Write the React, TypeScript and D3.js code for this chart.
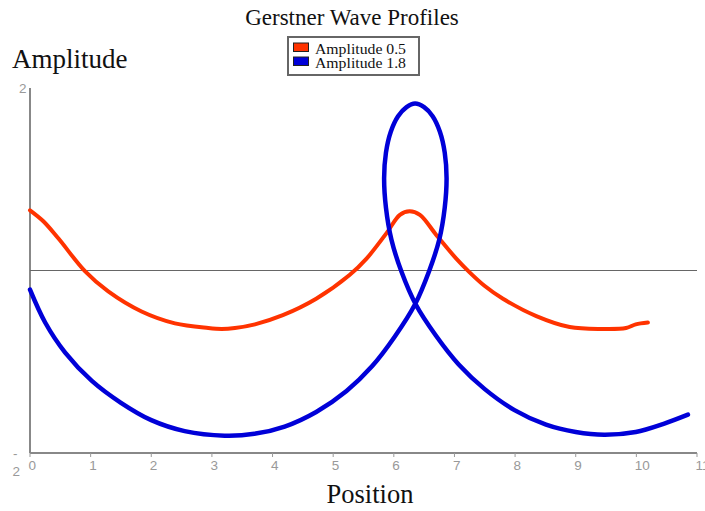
import React from "react";
import * as d3 from "d3";

const redX = [0, 0.22, 0.47, 0.91, 1.29, 1.84, 2.39, 2.94, 3.16, 3.38, 3.71, 4.17, 4.72, 5.27, 5.55, 5.88, 6.10, 6.26, 6.43, 6.70, 7.03, 7.25, 7.50, 7.80, 8.35, 8.90, 9.44, 9.83, 9.99, 10.19];
const redY = [0.66, 0.54, 0.35, -0.01, -0.23, -0.45, -0.58, -0.63, -0.64, -0.63, -0.59, -0.49, -0.31, -0.05, 0.13, 0.41, 0.61, 0.65, 0.61, 0.39, 0.13, -0.02, -0.17, -0.31, -0.50, -0.62, -0.64, -0.63, -0.59, -0.57];

const blueX = [0, 0.25, 0.58, 1.02, 1.50, 2.0, 2.55, 3.21, 3.70, 4.20, 4.72, 5.22, 5.64, 6.02, 6.35, 6.58, 6.75, 6.84, 6.87, 6.84, 6.76, 6.64, 6.50, 6.35, 6.21, 6.07, 5.95, 5.87, 5.84, 5.87, 5.96, 6.13, 6.36, 6.69, 7.07, 7.50, 7.99, 8.51, 9.0, 9.47, 9.99, 10.45, 10.85];
const blueY = [-0.21, -0.57, -0.90, -1.21, -1.45, -1.64, -1.76, -1.81, -1.79, -1.71, -1.55, -1.32, -1.05, -0.72, -0.37, -0.01, 0.34, 0.69, 1.01, 1.29, 1.52, 1.69, 1.79, 1.83, 1.79, 1.69, 1.52, 1.29, 1.01, 0.69, 0.34, -0.02, -0.37, -0.71, -1.03, -1.30, -1.53, -1.69, -1.77, -1.80, -1.77, -1.68, -1.58];

const xTicks = [0, 1, 2, 3, 4, 5, 6, 7, 8, 9, 10, 11];
const seriesNames = ["Amplitude 0.5", "Amplitude 1.8"];
const seriesColors = ["#ff3300", "#0000d8"];

export default function App() {
  const W = 705, H = 511;
  const x = d3.scaleLinear().domain([0, 11]).range([30, 697]);
  const y = d3.scaleLinear().domain([-2, 2]).range([453, 88]);
  const line = d3
    .line<[number, number]>()
    .x((d) => x(d[0]))
    .y((d) => y(d[1]))
    .curve(d3.curveCatmullRom.alpha(0.5));
  const red = redX.map((v, i) => [v, redY[i]] as [number, number]);
  const blue = blueX.map((v, i) => [v, blueY[i]] as [number, number]);
  const serif = "'Liberation Serif', 'Times New Roman', serif";
  const sans = "'Liberation Sans', Arial, sans-serif";
  return (
    <svg width={W} height={H} style={{ position: "absolute", left: 0, top: 0, background: "#fff" }}>
      <text x={352} y={25} textAnchor="middle" fontFamily={serif} fontSize={23} fill="#111">
        Gerstner Wave Profiles
      </text>
      <text x={12} y={68} fontFamily={serif} fontSize={27} fill="#111">
        Amplitude
      </text>
      <text x={370} y={503} textAnchor="middle" fontFamily={serif} fontSize={26.5} fill="#111">
        Position
      </text>

      {/* legend */}
      <rect x={288} y={37} width={131} height={38} fill="#fff" stroke="#666" strokeWidth={2} />
      {seriesNames.map((n, i) => (
        <g key={n}>
          <rect x={293.5} y={43 + i * 14} width={15} height={8.5} fill={seriesColors[i]} stroke="#222" strokeWidth={1} />
          <text x={315} y={53.5 + i * 14} fontFamily={serif} fontSize={14} textLength={91} lengthAdjust="spacingAndGlyphs" fill="#111">
            {n}
          </text>
        </g>
      ))}

      {/* axes */}
      <line x1={x(0)} x2={x(0)} y1={y(2)} y2={y(-2)} stroke="#888" strokeWidth={2} />
      <line x1={x(0)} x2={x(11)} y1={y(-2)} y2={y(-2)} stroke="#888" strokeWidth={2} />
      <line x1={x(0)} x2={x(11)} y1={y(0)} y2={y(0)} stroke="#666" strokeWidth={1} />
      {xTicks.map((t) => (
        <g key={t}>
          <line x1={x(t)} x2={x(t)} y1={y(-2)} y2={y(-2) + 4} stroke="#999" strokeWidth={1} />
          <text x={x(t) - 1.5} y={y(-2) + 17} fontFamily={sans} fontSize={13.5} fill="#999">
            {t}
          </text>
        </g>
      ))}
      <text x={19} y={y(2) + 5} fontFamily={sans} fontSize={13.5} fill="#999">2</text>
      <text x={13} y={y(-2) + 5} fontFamily={sans} fontSize={13.5} fill="#999">-</text>
      <text x={12.5} y={y(-2) + 23} fontFamily={sans} fontSize={13.5} fill="#999">2</text>

      <path d={line(red) || ""} fill="none" stroke={seriesColors[0]} strokeWidth={4} strokeLinejoin="round" strokeLinecap="round" />
      <path d={line(blue) || ""} fill="none" stroke={seriesColors[1]} strokeWidth={4.5} strokeLinejoin="round" strokeLinecap="round" />
    </svg>
  );
}
